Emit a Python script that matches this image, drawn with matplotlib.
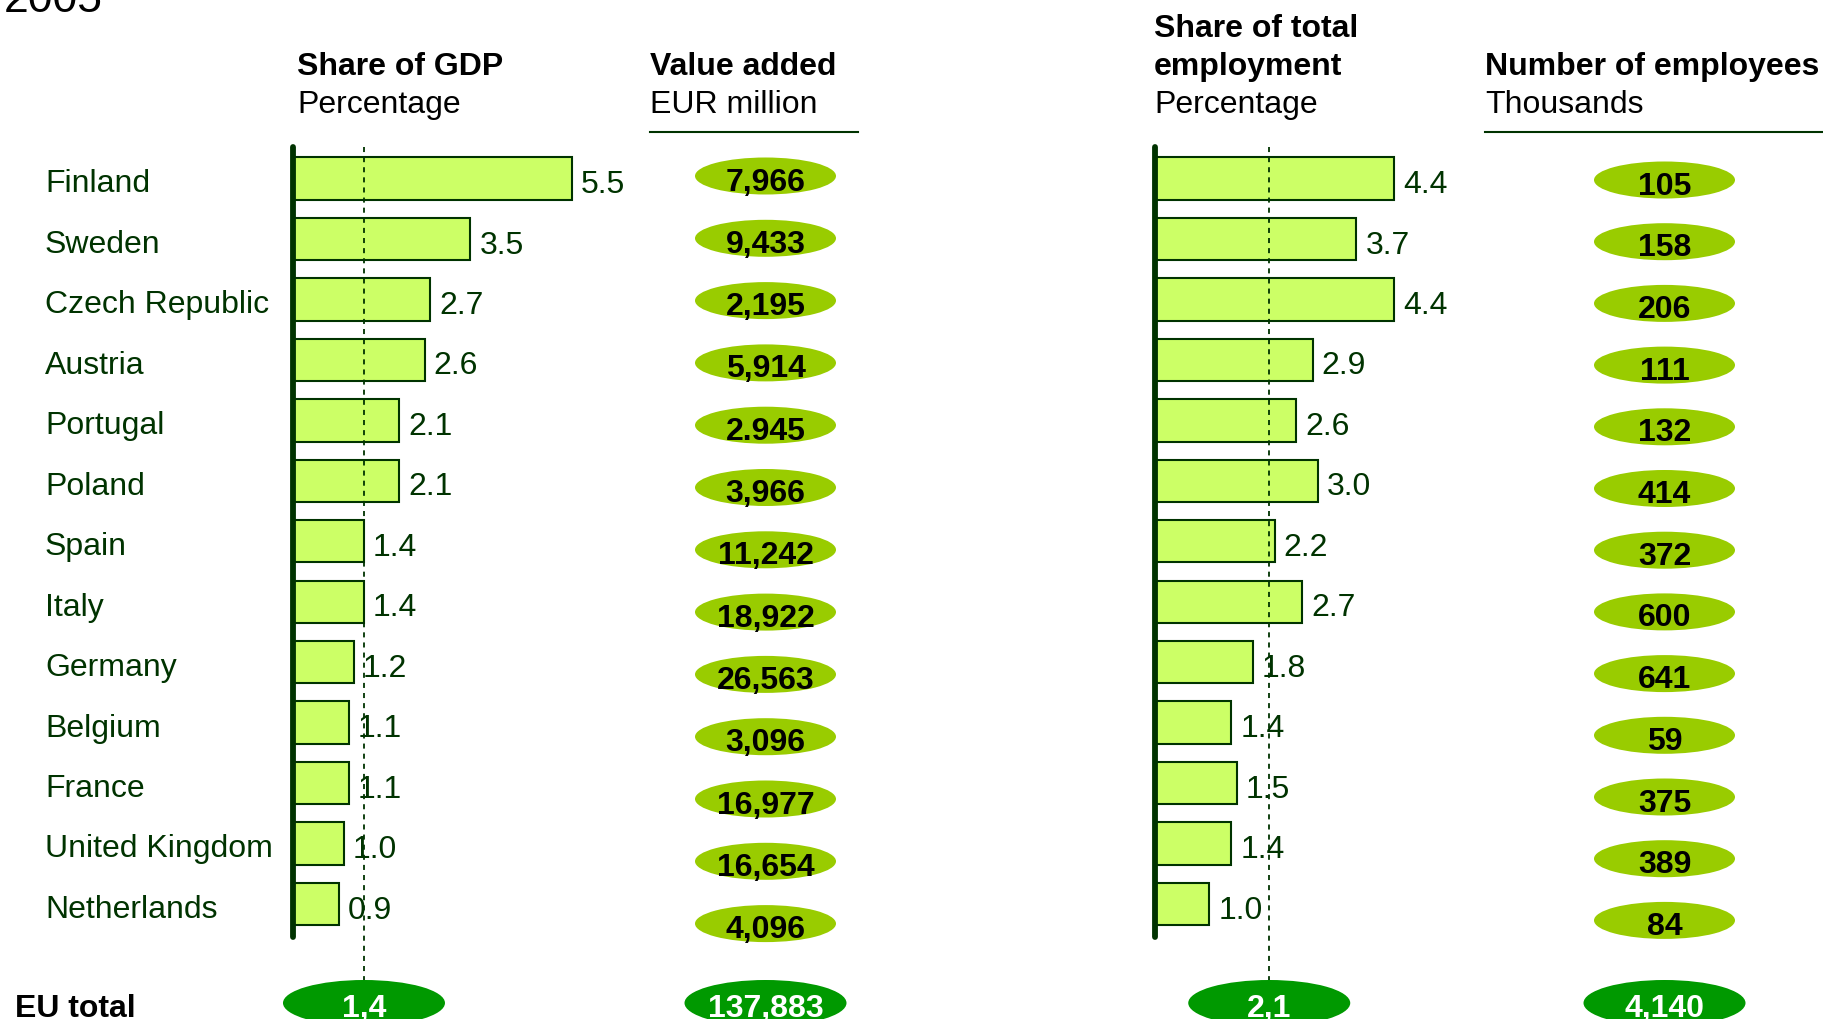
import matplotlib
matplotlib.use("Agg")
import matplotlib.pyplot as plt
from matplotlib.patches import Ellipse
from matplotlib.lines import Line2D
from matplotlib.transforms import blended_transform_factory

# ---------------- data ----------------
countries = ["Finland", "Sweden", "Czech Republic", "Austria", "Portugal", "Poland",
             "Spain", "Italy", "Germany", "Belgium", "France", "United Kingdom", "Netherlands"]
gdp_share = [5.5, 3.5, 2.7, 2.6, 2.1, 2.1, 1.4, 1.4, 1.2, 1.1, 1.1, 1.0, 0.9]
value_added = ["7,966", "9,433", "2,195", "5,914", "2.945", "3,966", "11,242",
               "18,922", "26,563", "3,096", "16,977", "16,654", "4,096"]
emp_share = [4.4, 3.7, 4.4, 2.9, 2.6, 3.0, 2.2, 2.7, 1.8, 1.4, 1.5, 1.4, 1.0]
employees = ["105", "158", "206", "111", "132", "414", "372", "600", "641", "59",
             "375", "389", "84"]
eu_gdp_share = 1.4
eu_gdp_label = "1,4"
eu_value_added = "137,883"
eu_emp_share = 2.1
eu_emp_label = "2,1"
eu_employees = "4,140"

# ---------------- style ----------------
plt.rcParams["font.family"] = ["Liberation Sans", "DejaVu Sans"]
DARK = "#003300"
BAR_FILL = "#CCFF66"
LIGHT = "#99CC00"
EU_GREEN = "#009900"
FS = 23

W, H = 1823, 1020
fig = plt.figure(figsize=(W / 100, H / 100), dpi=100)
fig.patch.set_facecolor("white")

AX_TOP, AX_BOT = 148, 938          # pixel extent of the row area
BAR_ROW0, BAR_STEP = 179.5, 60.46  # bar rows
EU_Y, EU_H = 1004, 46              # EU total row (pixels)
EU_W = 162
ELL_H = 37


def add_ax(x0, x1, y0, y1):
    return fig.add_axes([x0 / W, 1 - y1 / H, (x1 - x0) / W, (y1 - y0) / H])


def set_rows(ax, row0, step):
    ax.set_ylim((AX_BOT - row0) / step, (AX_TOP - row0) / step)


def bar_panel(x0, ppu, xmax, values, eu_value, eu_label):
    ax = add_ax(x0, x0 + ppu * xmax, AX_TOP, AX_BOT)
    ax.set_xlim(0, xmax)
    set_rows(ax, BAR_ROW0, BAR_STEP)
    ypos = list(range(len(values)))
    ax.barh(ypos, values, height=0.70, color=BAR_FILL, edgecolor=DARK,
            linewidth=1.5, zorder=2)
    for yi, v in zip(ypos, values):
        ax.annotate(f"{v:.1f}", (v, yi), xytext=(6.5, -1.5), textcoords="offset points",
                    ha="left", va="center_baseline", fontsize=FS, color=DARK, zorder=5)
    for s in ["top", "right", "bottom"]:
        ax.spines[s].set_visible(False)
    sp = ax.spines["left"]
    sp.set_linewidth(4.2)
    sp.set_color(DARK)
    sp.set_capstyle("round")
    sp.set_zorder(6)
    ax.set_xticks([])
    ax.set_yticks([])
    ax.patch.set_visible(False)
    top = (AX_TOP - BAR_ROW0) / BAR_STEP
    eu_y = (EU_Y - BAR_ROW0) / BAR_STEP
    ax.plot([eu_value, eu_value], [top, eu_y], ls=(0, (2.8, 2.8)), lw=1.3,
            color=DARK, clip_on=False, zorder=3)
    ax.add_patch(Ellipse((eu_value, eu_y), EU_W / ppu, EU_H / BAR_STEP,
                         facecolor=EU_GREEN, edgecolor="none", clip_on=False, zorder=4))
    ax.annotate(eu_label, (eu_value, eu_y), xytext=(0, -1), textcoords="offset points",
                ha="center", va="center_baseline", fontsize=FS,
                fontweight="bold", color="white", annotation_clip=False, zorder=5)
    return ax


def ellipse_column(x0, x1, row0, step, labels, eu_label):
    ax = add_ax(x0, x1, AX_TOP, AX_BOT)
    ax.set_xlim(0, 1)
    set_rows(ax, row0, step)
    ax.axis("off")
    for i, lab in enumerate(labels):
        ax.add_patch(Ellipse((0.5, i), 1.0, ELL_H / step, facecolor=LIGHT,
                             edgecolor="none", clip_on=False))
        ax.annotate(lab, (0.5, i), xytext=(0, -1.5), textcoords="offset points",
                    ha="center", va="center_baseline", fontsize=FS,
                    fontweight="bold", color="black", annotation_clip=False)
    eu_y = (EU_Y - row0) / step
    ax.add_patch(Ellipse((0.5, eu_y), EU_W / (x1 - x0), EU_H / step,
                         facecolor=EU_GREEN, edgecolor="none", clip_on=False))
    ax.annotate(eu_label, (0.5, eu_y), xytext=(0, -1), textcoords="offset points",
                ha="center", va="center_baseline", fontsize=FS,
                fontweight="bold", color="white", annotation_clip=False)
    return ax


ax_gdp = bar_panel(293, 50.7, 6.0, gdp_share, eu_gdp_share, eu_gdp_label)
ax_emp = bar_panel(1155, 54.4, 5.0, emp_share, eu_emp_share, eu_emp_label)
ellipse_column(695, 836, 177, 62.3, value_added, eu_value_added)
ellipse_column(1594, 1735, 181, 61.7, employees, eu_employees)

# country labels
tr = blended_transform_factory(fig.transFigure, ax_gdp.transData)
for i, c in enumerate(countries):
    ax_gdp.annotate(c, (45 / W, i), xycoords=tr, xytext=(0, -1),
                    textcoords="offset points", ha="left", va="center_baseline",
                    fontsize=FS, color=DARK, annotation_clip=False)
ax_gdp.annotate("EU total", (15 / W, (EU_Y - BAR_ROW0) / BAR_STEP), xycoords=tr,
                xytext=(0, -1), textcoords="offset points", ha="left",
                va="center_baseline", fontsize=FS, fontweight="bold", color="black",
                annotation_clip=False)


# headers
def ftext(x, baseline, s, bold=False, size=FS):
    fig.text(x / W, 1 - baseline / H, s, ha="left", va="baseline", fontsize=size,
             fontweight="bold" if bold else "normal", color="black")


ftext(4, 12, "2005", size=32)
ftext(297, 75, "Share of GDP", bold=True)
ftext(297, 113.3, "Percentage")
ftext(650, 75, "Value added", bold=True)
ftext(650, 113.3, "EUR million")
ftext(1154, 36.7, "Share of total", bold=True)
ftext(1154, 75, "employment", bold=True)
ftext(1154, 113.3, "Percentage")
ftext(1485, 75, "Number of employees", bold=True)
ftext(1485, 113.3, "Thousands")

fig.add_artist(Line2D([650 / W, 858 / W], [1 - 133.3 / H] * 2, lw=1.5, color=DARK))
fig.add_artist(Line2D([1485 / W, 1823 / W], [1 - 133.3 / H] * 2, lw=1.5, color=DARK))

fig.savefig("out.png", dpi=100, facecolor="white")
